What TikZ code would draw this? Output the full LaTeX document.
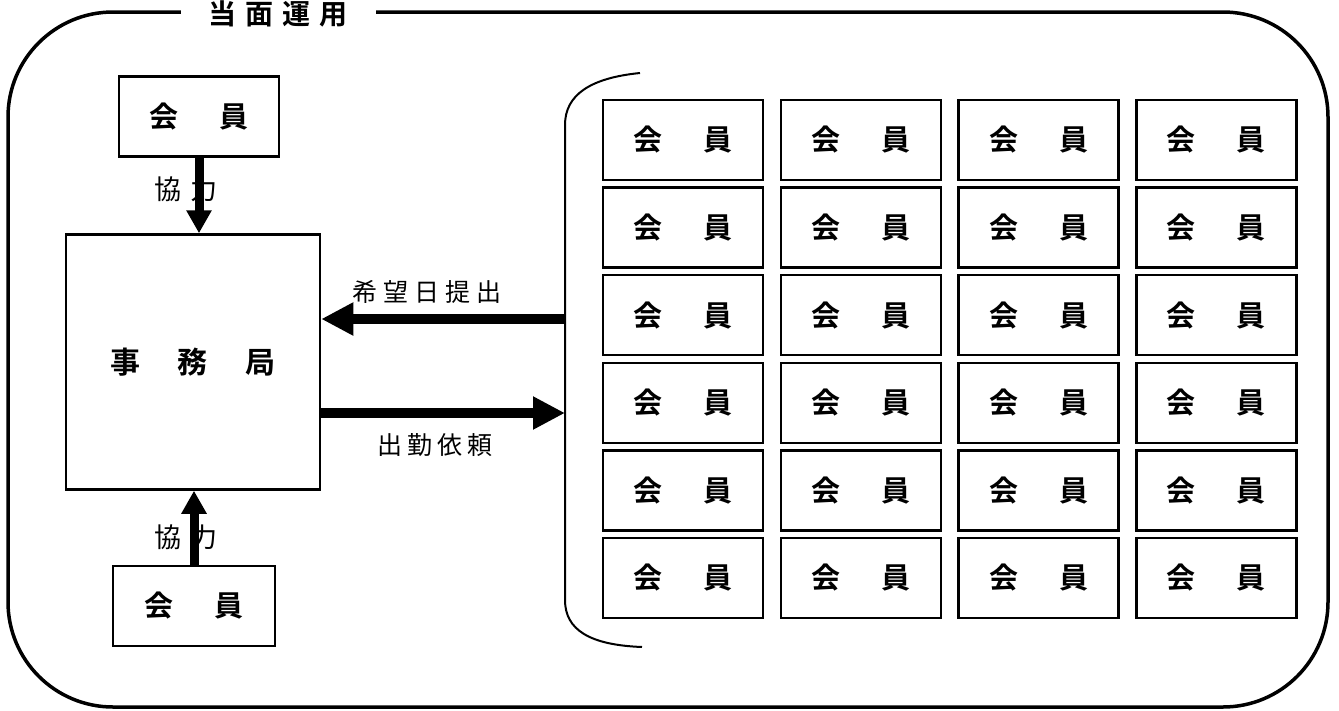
\documentclass[tikz,border=0pt]{standalone}
\usepackage{fontspec}
\setmainfont{Noto Sans CJK JP}[BoldFont={Noto Sans CJK JP Bold}]
\usetikzlibrary{arrows.meta}
\begin{document}
\begin{tikzpicture}[x=1pt,y=-1pt,
	member/.style={draw,line width=2.5pt,minimum width=160pt,minimum height=80pt,inner sep=0pt,
		font=\fontsize{29}{32}\selectfont\bfseries},
	lbl/.style={inner sep=0pt,font=\fontsize{25}{28}\selectfont},
	bigarrow/.style={line width=10pt,-{Triangle[length=32pt,width=31pt]}},
	smallarrow/.style={line width=9pt,-{Triangle[length=23pt,width=24pt]}}]
\useasboundingbox (0,0) rectangle (1339,710);
\draw[line width=3.5pt,rounded corners=105pt] (8,12) rectangle (1328,707);
\node[fill=white,minimum width=195pt,inner sep=0pt,font=\fontsize{28}{30}\selectfont\bfseries] (title) at (278,14)
	{当\hspace{9pt}面\hspace{9pt}運\hspace{9pt}用};
% left side
\node[member] (mtop) at (199,116.5) {会\hspace{41pt}員};
\node[draw,line width=2.5pt,minimum width=254pt,minimum height=255pt,
	font=\fontsize{30}{32}\selectfont\bfseries] (office) at (193,362) {事\hspace{38pt}務\hspace{38pt}局};
\node[member,minimum width=162pt] (mbot) at (194,606) {会\hspace{41pt}員};
\node[lbl,font=\fontsize{27}{30}\selectfont] (coop1) at (186,189) {協\hspace{9pt}力};
\node[lbl,font=\fontsize{27}{30}\selectfont] (coop2) at (186,537) {協\hspace{9pt}力};
\draw[smallarrow] (mtop.south) -- (mtop.south |- office.north);
\draw[smallarrow] (mbot.north) -- (mbot.north |- office.south);
% bracket round the members
\draw[line width=2pt] (640,73) .. controls (590,78) and (565,95) .. (565,125) -- (565,600)
	.. controls (565,630) and (590,645) .. (642,647);
\coordinate (bin) at (565,319);
\coordinate (bout) at (565,413);
\node[lbl] (wish) at (427,292) {希\hspace{6pt}望\hspace{6pt}日\hspace{6pt}提\hspace{6pt}出};
\node[lbl] (ask) at (435,445) {出\hspace{5pt}勤\hspace{5pt}依\hspace{5pt}頼};
\draw[bigarrow] (bin) -- (office.east |- bin);
\draw[bigarrow] (office.east |- bout) -- (bout);
% members grid
\foreach \r in {0,...,5}
	\foreach \c in {0,...,3}
		\node[member] (m-\r-\c) at ({683+177.8*\c},{140+87.6*\r}) {会\hspace{41pt}員};
\end{tikzpicture}
\end{document}
